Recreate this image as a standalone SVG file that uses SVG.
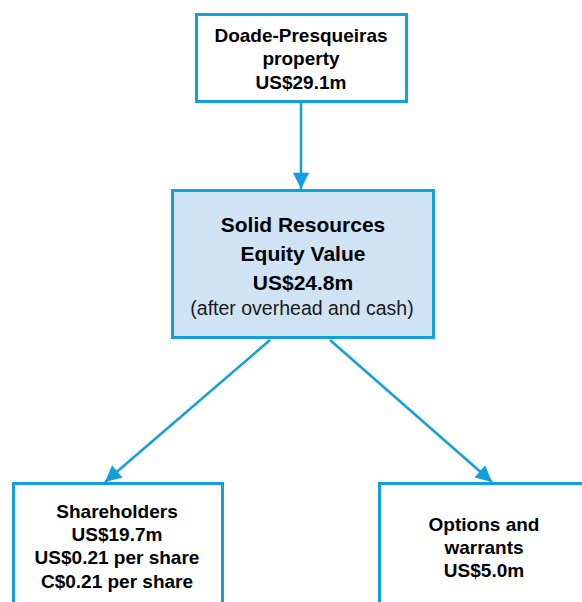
<svg xmlns="http://www.w3.org/2000/svg" width="582" height="602" viewBox="0 0 582 602">
<style>
.box{fill:#ffffff;stroke:#12a0dc;stroke-width:3}
.main{fill:#cfe3f5;stroke:#12a0dc;stroke-width:3}
.t{font-family:"Liberation Sans",Arial,sans-serif;font-weight:bold;fill:#000;text-anchor:middle}
.n{font-family:"Liberation Sans",Arial,sans-serif;font-weight:normal;fill:#1a1a1a;text-anchor:middle}
.c{stroke:#12a0dc;stroke-width:2.5;fill:none;marker-end:url(#ah)}
</style>
<defs>
<marker id="ah" viewBox="0 0 10 10" refX="10" refY="5" markerWidth="7" markerHeight="6.5" markerUnits="strokeWidth" orient="auto">
<path d="M0,0 L10,5 L0,10 Z" fill="#12a0dc"/>
</marker>
</defs>
<g id="connectors">
<line class="c" x1="301" y1="101" x2="301" y2="189"/>
<line class="c" x1="270" y1="340" x2="105" y2="482"/>
<line class="c" x1="330" y1="340" x2="492" y2="482"/>
</g>
<g id="node-property">
<rect class="box" x="196.5" y="14.5" width="210" height="87"/>
<text class="t" font-size="19" x="301" y="42">Doade-Presqueiras</text>
<text class="t" font-size="19" x="301" y="65">property</text>
<text class="t" font-size="19" x="301" y="89">US$29.1m</text>
</g>
<g id="node-equity">
<rect class="main" x="172.5" y="190.5" width="261" height="147"/>
<text class="t" font-size="21" x="303" y="232">Solid Resources</text>
<text class="t" font-size="21" x="303" y="261">Equity Value</text>
<text class="t" font-size="21" x="303" y="290">US$24.8m</text>
<text class="n" font-size="19.5" x="302" y="315">(after overhead and cash)</text>
</g>
<g id="node-shareholders">
<rect class="box" x="13.5" y="483.5" width="209" height="130"/>
<text class="t" font-size="19" x="117" y="518">Shareholders</text>
<text class="t" font-size="19" x="117" y="541">US$19.7m</text>
<text class="t" font-size="19" x="117" y="564">US$0.21 per share</text>
<text class="t" font-size="19" x="117" y="588">C$0.21 per share</text>
</g>
<g id="node-options">
<rect class="box" x="379.5" y="483.5" width="210" height="130"/>
<text class="t" font-size="19" x="484" y="531">Options and</text>
<text class="t" font-size="19" x="484" y="554">warrants</text>
<text class="t" font-size="19" x="484" y="577">US$5.0m</text>
</g>
</svg>
